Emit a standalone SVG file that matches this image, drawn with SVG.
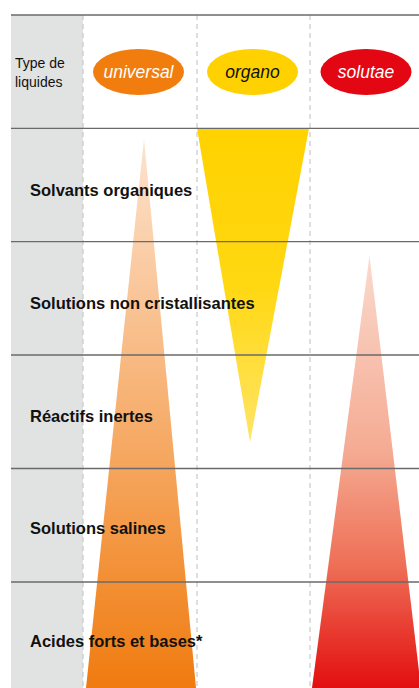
<svg xmlns="http://www.w3.org/2000/svg" width="419" height="688" viewBox="0 0 419 688">
<style>
.hl{stroke:#6a6a6a;stroke-width:1.3;fill:none}
.vl{stroke:#c9c9c9;stroke-width:1.2;stroke-dasharray:5,4;fill:none}
.row{font-family:"Liberation Sans",Arial,sans-serif;font-weight:bold;font-size:16.5px;fill:#111}
.hdr{font-family:"Liberation Sans",Arial,sans-serif;font-size:14px;fill:#111}
.pill{font-family:"Liberation Sans",Arial,sans-serif;font-style:italic;font-size:17.5px;text-anchor:middle}
</style>
<defs>
<linearGradient id="gO" x1="0" y1="0" x2="0" y2="1">
<stop offset="0" stop-color="#fde3cf"/>
<stop offset="1" stop-color="#f07b0f"/>
</linearGradient>
<linearGradient id="gY" x1="0" y1="0" x2="0" y2="1">
<stop offset="0" stop-color="#ffd200"/>
<stop offset="0.5" stop-color="#ffd812"/>
<stop offset="1" stop-color="#ffe466"/>
</linearGradient>
<linearGradient id="gR" x1="0" y1="0" x2="0" y2="1">
<stop offset="0" stop-color="#fadacd"/>
<stop offset="0.45" stop-color="#f5ab93"/>
<stop offset="0.72" stop-color="#ee6e55"/>
<stop offset="1" stop-color="#e30e10"/>
</linearGradient>
</defs>
<rect x="11" y="15" width="72" height="673" fill="#e1e3e3"/>
<g id="bars">
<polygon id="bar-universal" points="144,139 196,688 86,688" fill="url(#gO)"/>
<polygon id="bar-organo" points="197,128.3 309,128.3 250,442" fill="url(#gY)"/>
<polygon id="bar-solutae" points="369.5,256 421,688 312,688" fill="url(#gR)"/>
</g>
<g id="connectors">
<line class="vl" x1="83" y1="15" x2="83" y2="688"/>
<line class="vl" x1="197" y1="15" x2="197" y2="688"/>
<line class="vl" x1="310" y1="15" x2="310" y2="688"/>
<line class="hl" x1="11" y1="15" x2="419" y2="15"/>
<line class="hl" x1="11" y1="128.3" x2="419" y2="128.3"/>
<line class="hl" x1="11" y1="241.7" x2="419" y2="241.7"/>
<line class="hl" x1="11" y1="355" x2="419" y2="355"/>
<line class="hl" x1="11" y1="468.5" x2="419" y2="468.5"/>
<line class="hl" x1="11" y1="582" x2="419" y2="582"/>
</g>
<g id="header">
<text class="hdr" x="15" y="68">Type de</text>
<text class="hdr" x="15" y="87">liquides</text>
</g>
<g id="node-universal">
<ellipse cx="138.5" cy="72" rx="45.5" ry="23" fill="#f07d0d"/>
<text class="pill" x="138.5" y="78" fill="#ffffff">universal</text>
</g>
<g id="node-organo">
<ellipse cx="252.5" cy="72" rx="45.5" ry="23" fill="#ffd100"/>
<text class="pill" x="252.5" y="78" fill="#111111">organo</text>
</g>
<g id="node-solutae">
<ellipse cx="366" cy="72" rx="45.5" ry="23" fill="#e30613"/>
<text class="pill" x="366" y="78" fill="#ffffff">solutae</text>
</g>
<g id="row-1"><text class="row" x="30" y="196">Solvants organiques</text></g>
<g id="row-2"><text class="row" x="30" y="309">Solutions non cristallisantes</text></g>
<g id="row-3"><text class="row" x="30" y="421.5">Réactifs inertes</text></g>
<g id="row-4"><text class="row" x="30" y="534">Solutions salines</text></g>
<g id="row-5"><text class="row" x="30" y="646.5">Acides forts et bases*</text></g>
</svg>
